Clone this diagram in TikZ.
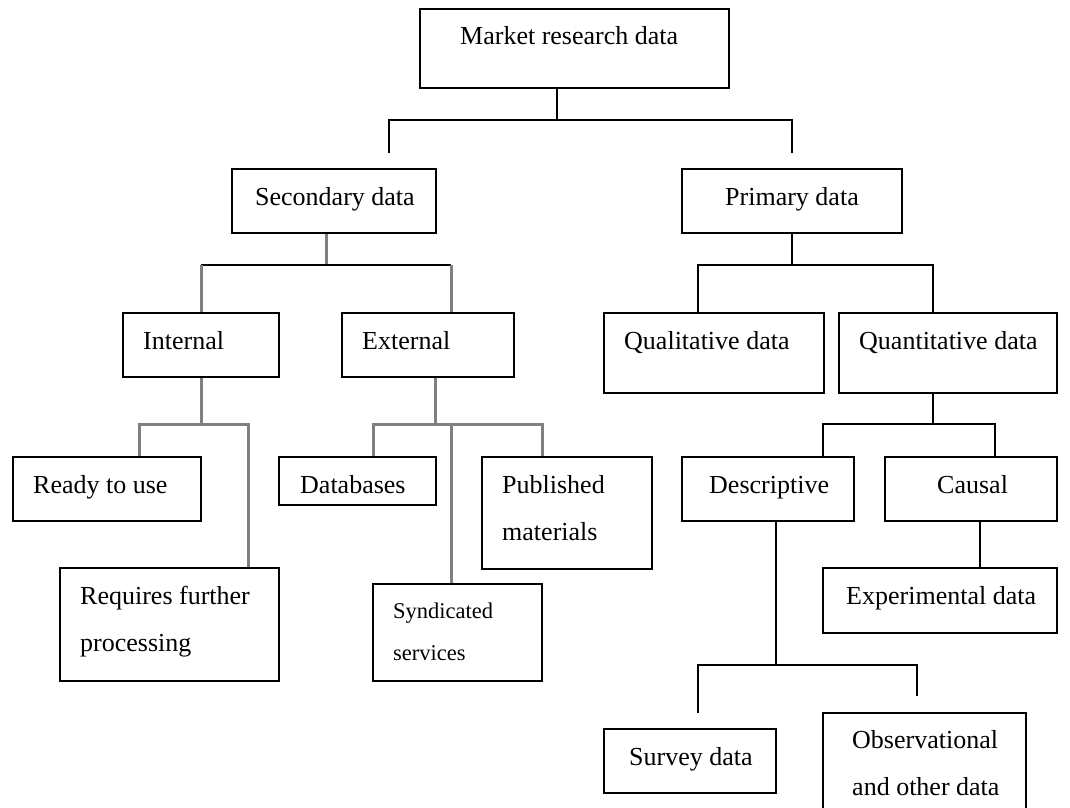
\documentclass[tikz,border=0pt]{standalone}
\usepackage{fontspec}
\setmainfont{Liberation Serif}
\definecolor{linegray}{HTML}{808080}

\begin{document}
\begin{tikzpicture}[x=1pt,y=-1pt,
    box/.style={draw,line width=2pt,inner sep=0pt},
    txt/.style={anchor=base west,inner sep=0pt,align=left,font=\fontsize{26}{47}\selectfont},
    small/.style={txt,font=\fontsize{22.5}{42}\selectfont},
    blk/.style={line width=2pt},
    gry/.style={line width=3pt,draw=linegray}]
  \useasboundingbox (0,0) rectangle (1070,807);

  \node[box,minimum width=309pt,minimum height=79pt] (mkt) at (574.5,48.5) {};
  \node[box,minimum width=204pt,minimum height=64pt] (sec) at (334,201) {};
  \node[box,minimum width=220pt,minimum height=64pt] (pri) at (792,201) {};
  \node[box,minimum width=156pt,minimum height=64pt] (int) at (201,345) {};
  \node[box,minimum width=172pt,minimum height=64pt] (ext) at (428,345) {};
  \node[box,minimum width=220pt,minimum height=80pt] (qual) at (714,353) {};
  \node[box,minimum width=218pt,minimum height=80pt] (quan) at (948,353) {};
  \node[box,minimum width=188pt,minimum height=64pt] (ready) at (107,489) {};
  \node[box,minimum width=219pt,minimum height=113pt] (req) at (169.5,624.5) {};
  \node[box,minimum width=157pt,minimum height=48pt] (db) at (357.5,481) {};
  \node[box,minimum width=170pt,minimum height=112pt] (pub) at (567,513) {};
  \node[box,minimum width=169pt,minimum height=97pt] (syn) at (457.5,632.5) {};
  \node[box,minimum width=172pt,minimum height=64pt] (desc) at (768,489) {};
  \node[box,minimum width=172pt,minimum height=64pt] (caus) at (971,489) {};
  \node[box,minimum width=234pt,minimum height=65pt] (exp) at (940,600.5) {};
  \node[box,minimum width=172pt,minimum height=64pt] (surv) at (690,761) {};
  \node[box,minimum width=203pt,minimum height=117pt] (obs) at (924.5,771.5) {};

  \node[txt] (mkt-t) at (460,44) {Market research data};
  \node[txt] (sec-t) at (255,205) {Secondary data};
  \node[txt] (pri-t) at (725,205) {Primary data};
  \node[txt] (int-t) at (143,349) {Internal};
  \node[txt] (ext-t) at (362,349) {External};
  \node[txt] (qual-t) at (624,349) {Qualitative data};
  \node[txt] (quan-t) at (859,349) {Quantitative data};
  \node[txt] (ready-t) at (33,493) {Ready to use};
  \node[txt] (req-t) at (80,651) {Requires further\\processing};
  \node[txt] (db-t) at (300,493) {Databases};
  \node[txt] (pub-t) at (502,540) {Published\\materials};
  \node[small] (syn-t) at (393,660) {Syndicated\\services};
  \node[txt] (desc-t) at (709,493) {Descriptive};
  \node[txt] (caus-t) at (937,493) {Causal};
  \node[txt] (exp-t) at (846,604) {Experimental data};
  \node[txt] (surv-t) at (629,765) {Survey data};
  \node[txt] (obs-t) at (852,795) {Observational\\and other data};

  \coordinate (m0) at (557,120);
  \coordinate (m1) at (389,153);
  \coordinate (m2) at (792,153);
  \draw[blk] (mkt.south -| m0) -- (m0);
  \draw[blk] (m1) -- (m1 |- m0) -- (m2 |- m0) -- (m2);

  \coordinate (s0) at (326,265);
  \coordinate (s1) at (451,265);
  \draw[gry] (sec.south -| s0) -- (s0);
  \draw[blk] (int.north |- s0) -- (s1);
  \draw[gry] (int.north |- s0) -- (int.north);
  \draw[gry] (s1) -- (s1 |- ext.north);

  \coordinate (p1) at (698,265);
  \coordinate (p2) at (933,265);
  \draw[blk] (pri.south) -- (pri.south |- p1);
  \draw[blk] (p1 |- qual.north) -- (p1) -- (p2) -- (p2 |- quan.north);

  \coordinate (i1) at (139,424);
  \coordinate (i2) at (248,424);
  \draw[gry] (int.south) -- (int.south |- i1);
  \draw[gry] (i1 |- ready.north) -- (i1) -- (i2) -- (i2 |- req.north);

  \coordinate (e0) at (435,424);
  \coordinate (e1) at (373,424);
  \coordinate (e2) at (451,424);
  \coordinate (e3) at (542,424);
  \draw[gry] (ext.south -| e0) -- (e0);
  \draw[gry] (e1 |- db.north) -- (e1) -- (e3) -- (e3 |- pub.north);
  \draw[gry] (e2) -- (e2 |- syn.north);

  \coordinate (q1) at (823,424);
  \coordinate (q2) at (995,424);
  \draw[blk] (quan.south -| p2) -- (p2 |- q1);
  \draw[blk] (q1 |- desc.north) -- (q1) -- (q2) -- (q2 |- caus.north);

  \coordinate (c0) at (980,521);
  \draw[blk] (caus.south -| c0) -- (c0 |- exp.north);

  \coordinate (d0) at (776,665);
  \coordinate (d1) at (698,713);
  \coordinate (d2) at (917,696);
  \draw[blk] (desc.south -| d0) -- (d0);
  \draw[blk] (d1) -- (d1 |- d0) -- (d2 |- d0) -- (d2);
\end{tikzpicture}
\end{document}
